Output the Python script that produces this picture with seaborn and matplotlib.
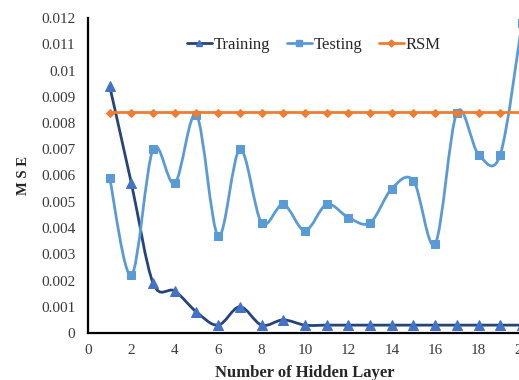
import numpy as np
import pandas as pd
import matplotlib
matplotlib.use("Agg")
import matplotlib.pyplot as plt
import seaborn as sns
from matplotlib.path import Path
from matplotlib.patches import PathPatch
from matplotlib.lines import Line2D

# ---- data ----
layers = list(range(1, 21))
training = [0.0094, 0.0057, 0.0019, 0.0016, 0.0008, 0.0003, 0.0010, 0.0003, 0.0005, 0.0003,
            0.0003, 0.0003, 0.0003, 0.0003, 0.0003, 0.0003, 0.0003, 0.0003, 0.0003, 0.0003]
testing = [0.0059, 0.0022, 0.0070, 0.0057, 0.0083, 0.0037, 0.0070, 0.0042, 0.0049, 0.0039,
           0.0049, 0.0044, 0.0042, 0.0055, 0.0058, 0.0034, 0.0084, 0.0068, 0.0068, 0.0118]
rsm = [0.0084] * 20
series_names = ["Training", "Testing", "RSM"]
x_ticks = [0, 2, 4, 6, 8, 10, 12, 14, 16, 18, 20]
y_ticks = [0, 0.001, 0.002, 0.003, 0.004, 0.005, 0.006, 0.007, 0.008, 0.009, 0.01, 0.011, 0.012]
y_tick_labels = ["0", "0.001", "0.002", "0.003", "0.004", "0.005", "0.006", "0.007",
                 "0.008", "0.009", "0.01", "0.011", "0.012"]
x_label = "Number of Hidden Layer"
y_label = "M S E"

sns.set_theme(style="white")
plt.rcParams["font.family"] = ["Liberation Serif", "DejaVu Serif"]

df = pd.DataFrame({
    "layer": layers * 3,
    "mse": training + testing + rsm,
    "series": ["Training"] * 20 + ["Testing"] * 20 + ["RSM"] * 20,
})

styles = {
    "Training": dict(line="#264478", mk="#4472C4", marker="^", ms=6.5, lms=4.5),
    "Testing": dict(line="#5B9BD5", mk="#5B9BD5", marker="s", ms=5.5, lms=4),
    "RSM": dict(line="#ED7D31", mk="#ED7D31", marker="D", ms=4, lms=3.5),
}

fig = plt.figure(figsize=(5.19, 3.80), dpi=100)
ax = fig.add_axes([88 / 519, 1 - 333 / 380, (522 - 88) / 519, (333 - 18) / 380])


def smooth_path(xs, ys):
    pts = np.column_stack([xs, ys]).astype(float)
    n = len(pts)
    verts = [pts[0]]
    codes = [Path.MOVETO]
    for i in range(n - 1):
        p0 = pts[i - 1] if i > 0 else pts[i]
        p1 = pts[i]
        p2 = pts[i + 1]
        p3 = pts[i + 2] if i + 2 < n else pts[i + 1]
        c1 = p1 + (p2 - p0) / 6.0
        c2 = p2 - (p3 - p1) / 6.0
        verts += [c1, c2, p2]
        codes += [Path.CURVE4] * 3
    return Path(verts, codes)


handles = []
for z, name in enumerate(series_names):
    st = styles[name]
    sub = df[df["series"] == name]
    patch = PathPatch(smooth_path(sub["layer"].values, sub["mse"].values),
                      facecolor="none", edgecolor=st["line"], lw=2.0, zorder=2 + z)
    ax.add_patch(patch)
    sns.lineplot(data=sub, x="layer", y="mse", ax=ax, linestyle="", marker=st["marker"],
                 markersize=st["ms"], color=st["mk"], markeredgecolor=st["mk"],
                 legend=False, zorder=2.5 + z, clip_on=False)
    handles.append(Line2D([0], [0], color=st["line"], lw=2.0, marker=st["marker"],
                          markersize=st["lms"], markerfacecolor=st["mk"],
                          markeredgecolor=st["mk"], label=name))

ax.set_xlim(0, 20)
ax.set_ylim(0, 0.012)
ax.set_xticks(x_ticks)
ax.set_xticklabels([str(t) for t in x_ticks])
ax.set_yticks(y_ticks)
ax.set_yticklabels(y_tick_labels)
ax.tick_params(axis="both", length=0, labelsize=11, colors="#3a3a3a")
ax.tick_params(axis="y", pad=9)
ax.tick_params(axis="x", pad=8)

for s in ["top", "right"]:
    ax.spines[s].set_visible(False)
for s in ["left", "bottom"]:
    ax.spines[s].set_color("black")
    ax.spines[s].set_linewidth(1.6)

ax.set_xlabel(x_label, fontsize=12, fontweight="bold", labelpad=5.5)
ax.set_ylabel(y_label, fontsize=10.5, fontweight="bold", labelpad=8)

ax.legend(handles=handles, loc="center", bbox_to_anchor=(0.52, 0.915), ncol=3,
          frameon=False, fontsize=12, handlelength=1.5, handletextpad=0.1,
          columnspacing=1.0)

fig.savefig("out.png", dpi=100)
